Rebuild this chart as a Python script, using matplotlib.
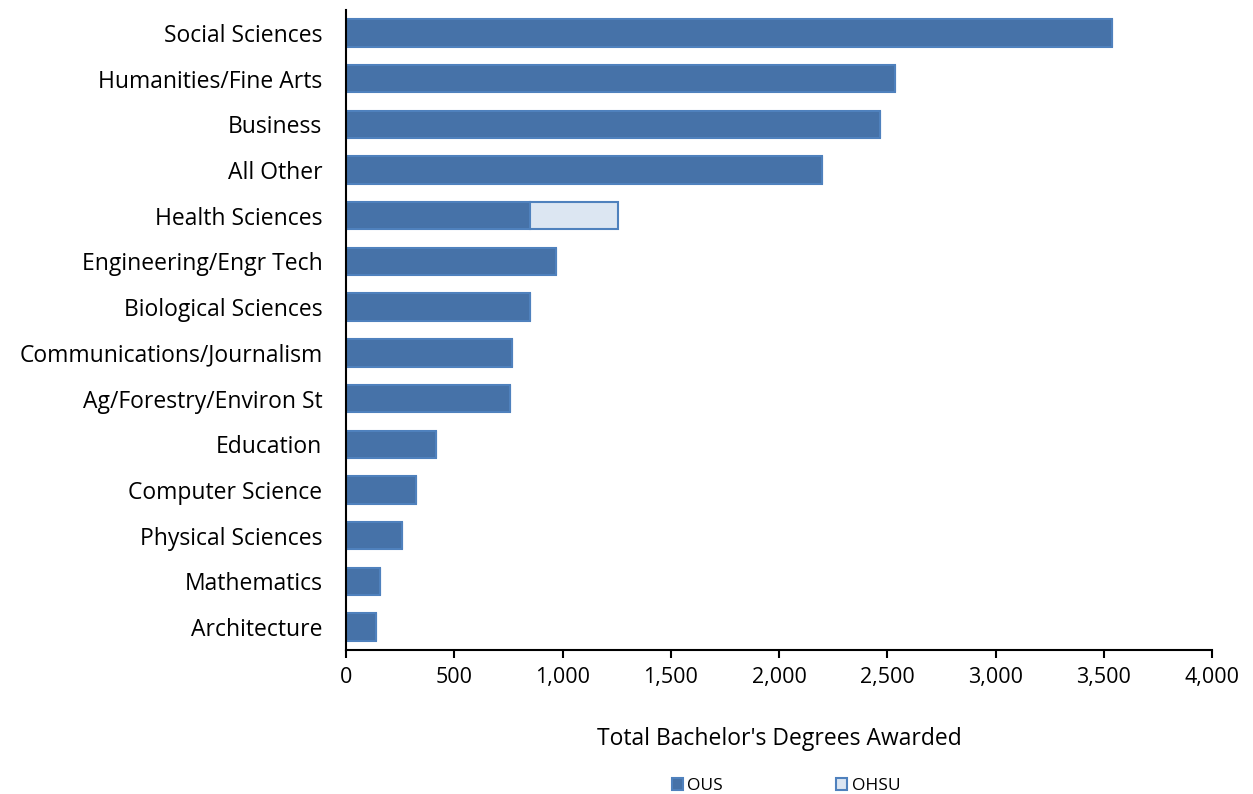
import matplotlib
matplotlib.use("Agg")
import matplotlib.pyplot as plt
from matplotlib.ticker import FuncFormatter, MultipleLocator

categories = ["Social Sciences", "Humanities/Fine Arts", "Business", "All Other",
              "Health Sciences", "Engineering/Engr Tech", "Biological Sciences",
              "Communications/Journalism", "Ag/Forestry/Environ St", "Education",
              "Computer Science", "Physical Sciences", "Mathematics", "Architecture"]
ous = [3540, 2534, 2468, 2200, 848, 970, 850, 767, 757, 416, 324, 259, 157, 139]
ohsu = [0, 0, 0, 0, 408, 0, 0, 0, 0, 0, 0, 0, 0, 0]

plt.rcParams['font.family'] = ['Open Sans', 'DejaVu Sans']

fig = plt.figure(figsize=(12.53, 7.94), dpi=100)
ax = fig.add_axes([346/1253, 1-650/794, 866/1253, 640/794])

y = list(range(len(categories)))
ax.barh(y, ous, height=0.6, color="#4672A8", edgecolor="#4F81BD", linewidth=1.5, label="OUS")
ax.barh(y, ohsu, left=ous, height=0.6, color="#DCE6F2", edgecolor="#4F81BD", linewidth=1.5, label="OHSU")

ax.set_ylim(len(categories) - 0.5, -0.5)
ax.set_yticks(y)
ax.set_yticklabels(categories, fontsize=16.5)
ax.tick_params(axis='y', length=0, pad=17)
ax.set_xlim(0, 4000)
ax.xaxis.set_major_locator(MultipleLocator(500))
ax.xaxis.set_major_formatter(FuncFormatter(lambda v, p: f"{int(v):,}"))
ax.tick_params(axis='x', labelsize=15.5, length=6, width=1.5, direction='out', pad=6)
for s in ['top', 'right']:
    ax.spines[s].set_visible(False)
for s in ['left', 'bottom']:
    ax.spines[s].set_linewidth(1.5)
ax.set_xlabel("Total Bachelor's Degrees Awarded", fontsize=16.5, labelpad=28)

handles, labels = ax.get_legend_handles_labels()
fig.legend(handles, labels, loc='center', bbox_to_anchor=(786/1253, 1-786/794), ncol=2,
           frameon=False, fontsize=12.5, handlelength=0.65, handleheight=0.65,
           handletextpad=0.25, columnspacing=6.5)

fig.savefig("out.png", dpi=100)
